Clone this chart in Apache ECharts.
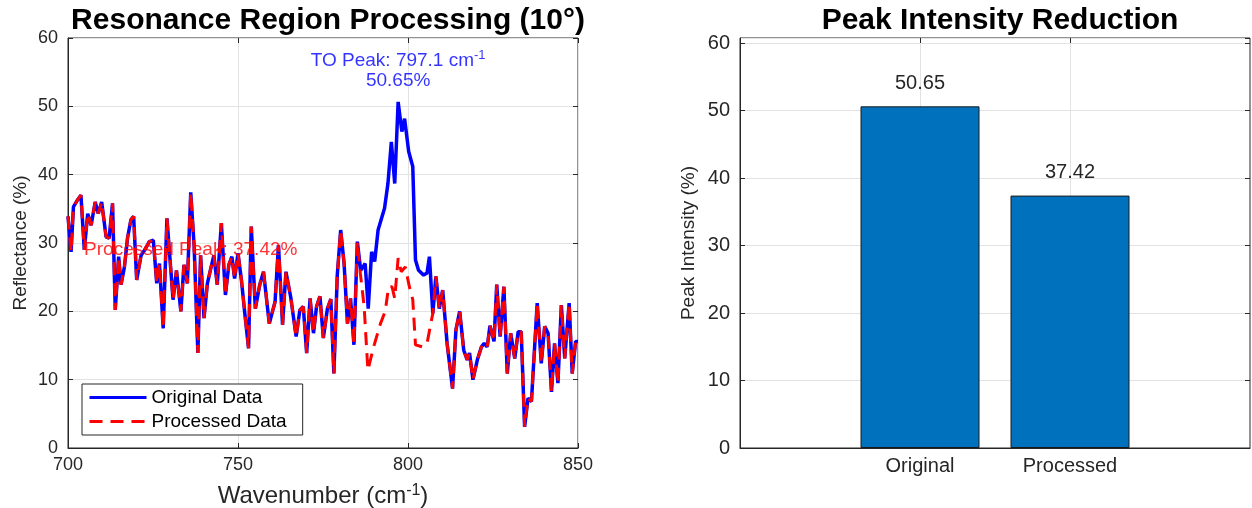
<!DOCTYPE html>
<html>
<head>
<meta charset="utf-8">
<script src="https://cdn.jsdelivr.net/npm/echarts@6/dist/echarts.min.js"></script>
<style>
    html, body { margin: 0; background: #fff; }
    #chart { width: 1252px; height: 508px; }
</style>
</head>
<body>
<div id="chart"></div>
<script>
// spectrum
const wavenumber = [
    700.0, 700.9, 701.6, 702.8, 703.8, 704.8, 705.8, 706.8, 708.0, 708.9, 709.9, 711.2, 712.1, 713.1, 713.9,
    714.9, 715.6, 716.6, 717.5, 718.5, 719.3, 720.2, 721.5, 722.6, 723.9, 725.1, 726.1, 726.9, 728.0, 729.1,
    730.9, 731.9, 733.2, 734.1, 735.1, 736.1, 737.1, 738.2, 739.0, 740.0, 741.0, 742.0, 742.9, 743.9, 745.1,
    746.3, 747.3, 748.2, 749.0, 750.0, 751.0, 752.0, 753.1, 753.9, 755.1, 756.4, 757.5, 759.2, 760.9, 761.9,
    763.1, 764.1, 765.5, 767.1, 768.2, 769.2, 770.2, 771.2, 772.2, 773.1, 774.1, 775.1, 776.3, 777.3, 778.2,
    779.2, 780.2, 781.2, 782.2, 783.1, 784.1, 785.1, 786.1, 787.4, 788.3, 789.3, 790.2, 791.2, 792.2, 793.1,
    794.1, 795.1, 796.1, 797.1, 798.2, 799.0, 800.2, 801.4, 802.2, 803.1, 804.6, 805.6, 806.3, 807.3, 808.2,
    809.2, 810.2, 811.5, 813.1, 814.1, 815.2, 816.4, 817.4, 818.1, 819.1, 820.4, 821.6, 822.4, 823.3, 824.1,
    825.3, 826.1, 827.1, 828.2, 829.2, 830.2, 831.4, 832.4, 833.3, 834.3, 835.3, 836.3, 838.0, 839.2, 840.2,
    841.2, 842.2, 843.1, 844.1, 845.1, 846.1, 847.4, 848.3, 849.3, 850.0
];
const originalRefl = [
    33.9, 28.7, 35.3, 36.3, 37.0, 29.0, 34.3, 32.6, 36.0, 34.3, 36.0, 30.9, 30.7, 35.8, 20.2,
    28.0, 23.9, 26.5, 30.7, 33.4, 33.9, 24.6, 28.2, 29.0, 30.2, 30.4, 24.1, 27.0, 17.5, 33.6,
    21.7, 26.0, 20.0, 26.8, 24.1, 37.42, 29.5, 13.9, 28.2, 19.0, 24.1, 26.3, 28.2, 23.9, 32.9,
    22.4, 26.8, 28.0, 24.8, 28.5, 24.6, 19.7, 14.6, 32.4, 20.4, 23.9, 25.8, 18.2, 21.4, 29.7,
    18.0, 25.8, 22.1, 16.3, 20.2, 20.7, 13.9, 21.9, 16.8, 20.7, 22.2, 16.1, 20.4, 21.8, 10.9,
    25.3, 31.9, 27.0, 18.2, 21.9, 15.1, 30.2, 26.0, 27.0, 20.4, 28.7, 27.3, 31.9, 33.6, 35.1,
    38.7, 44.8, 38.7, 50.65, 46.3, 48.2, 43.4, 41.2, 27.5, 26.0, 25.3, 25.6, 28.0, 19.7, 25.1,
    20.4, 23.1, 15.3, 8.7, 17.3, 20.0, 14.3, 12.9, 13.9, 10.0, 12.9, 14.8, 15.3, 14.8, 17.9,
    15.6, 23.9, 16.3, 23.6, 10.9, 16.8, 13.1, 17.0, 17.0, 3.1, 7.3, 6.8, 21.2, 12.4, 17.8,
    16.8, 8.2, 15.3, 9.5, 20.9, 13.1, 21.2, 10.9, 15.6, 15.6
];
// processed curve differs from the original only inside the resonance window
const windowStart = 785.5;
const windowEnd = 807.0;
const processedWindowWn = [786.0, 787.1, 788.2, 789.9, 791.9, 793.3, 794.3, 795.3, 796.1, 797.1, 798.0, 799.2, 800.4, 801.4, 802.2, 804.2, 805.6, 806.9];
const processedWindowRefl = [25.5, 20.7, 11.4, 14.8, 18.2, 20.0, 23.6, 23.6, 21.9, 27.8, 25.8, 26.5, 23.6, 21.7, 15.1, 14.8, 15.3, 18.7];

const toPeakWn = 797.1;
const barCategories = ['Original', 'Processed'];
const peakValues = [50.65, 37.42];
const reflTicks = [0, 60, 10];
const wnTicks = [700, 850, 50];

const font = '"Liberation Sans", Arial, Helvetica, sans-serif';
const ink = '#262626';
const gridColor = '#e3e3e3';

const originalData = wavenumber.map((w, i) => [w, originalRefl[i]]);
const processedData = originalData
    .filter(p => p[0] < windowStart || p[0] > windowEnd)
    .concat(processedWindowWn.map((w, i) => [w, processedWindowRefl[i]]))
    .sort((a, b) => a[0] - b[0]);
const procPeak = processedData.reduce((m, p) => p[1] > m[1] ? p : m);
const barMax = Math.max(...peakValues) * 1.2;

const tickStyle = { show: true, inside: true, length: 5, lineStyle: { color: ink } };
const lineStyle = { show: true, onZero: false, lineStyle: { color: ink } };
const labelStyle = { color: ink, fontSize: 19, fontFamily: font };
const nameStyle = (size) => ({ color: ink, fontSize: size, fontFamily: font,
    rich: { sup: { fontSize: Math.round(size * 0.65), fontFamily: font, color: ink, padding: [0, 0, 11, 0] } } });
const hiddenMirror = { axisLine: { show: false, onZero: false }, axisTick: tickStyle, axisLabel: { show: false }, splitLine: { show: false } };

const chart = echarts.init(document.getElementById('chart'), null, { renderer: 'canvas' });

chart.setOption({
    backgroundColor: '#fff',
    animation: false,
    title: [
        { text: 'Resonance Region Processing (10°)', left: 323, top: 1, textAlign: 'center',
          textStyle: { fontSize: 30, fontWeight: 'bold', color: '#000', fontFamily: font } },
        { text: 'Peak Intensity Reduction', left: 995, top: 1, textAlign: 'center',
          textStyle: { fontSize: 30, fontWeight: 'bold', color: '#000', fontFamily: font } },
    ],
    grid: [
        { left: 68, top: 38, width: 510, height: 410, outerBoundsMode: 'none', show: true, borderColor: ink, borderWidth: 1 },
        { left: 740, top: 38, width: 510, height: 410, outerBoundsMode: 'none', show: true, borderColor: ink, borderWidth: 1 },
    ],
    legend: {
        data: ['Original Data', 'Processed Data'],
        orient: 'vertical',
        left: 82, top: 384,
        itemWidth: 57, itemHeight: 14, itemGap: 5,
        padding: [4, 16, 4, 6],
        backgroundColor: '#fff',
        borderColor: ink, borderWidth: 1,
        itemStyle: { opacity: 0 },
        lineStyle: { width: 3 },
        textStyle: { fontSize: 19, color: '#000', fontFamily: font },
    },
    xAxis: [
        { type: 'value', gridIndex: 0, min: wnTicks[0], max: wnTicks[1], interval: wnTicks[2],
          name: 'Wavenumber (cm{sup|-1})', nameLocation: 'middle', nameGap: 35, nameTextStyle: nameStyle(24),
          axisLine: lineStyle, axisTick: tickStyle,
          axisLabel: { ...labelStyle, fontSize: 18, margin: 8 },
          splitLine: { show: true, lineStyle: { color: gridColor } } },
        { type: 'value', gridIndex: 0, position: 'top', min: wnTicks[0], max: wnTicks[1], interval: wnTicks[2], ...hiddenMirror },
        { type: 'value', gridIndex: 1, min: -0.2, max: 3.2,
          axisLine: lineStyle,
          axisTick: { ...tickStyle, customValues: [1, 2] },
          axisLabel: { ...labelStyle, fontSize: 20, margin: 8, customValues: [1, 2], formatter: v => barCategories[Math.round(v) - 1] || '' },
          splitLine: { show: true, lineStyle: { color: gridColor } } },
        { type: 'value', gridIndex: 1, position: 'top', min: -0.2, max: 3.2, ...hiddenMirror,
          axisTick: { ...tickStyle, customValues: [1, 2] } },
    ],
    yAxis: [
        { type: 'value', gridIndex: 0, min: reflTicks[0], max: reflTicks[1], interval: reflTicks[2],
          name: 'Reflectance (%)', nameLocation: 'middle', nameGap: 38, nameTextStyle: nameStyle(19),
          axisLine: lineStyle, axisTick: tickStyle,
          axisLabel: { ...labelStyle, fontSize: 18, margin: 10 },
          splitLine: { show: true, lineStyle: { color: gridColor } } },
        { type: 'value', gridIndex: 0, position: 'right', min: reflTicks[0], max: reflTicks[1], interval: reflTicks[2], ...hiddenMirror },
        { type: 'value', gridIndex: 1, min: 0, max: barMax, interval: 10,
          name: 'Peak Intensity (%)', nameLocation: 'middle', nameGap: 42, nameTextStyle: nameStyle(19),
          axisLine: lineStyle, axisTick: tickStyle,
          axisLabel: { ...labelStyle, fontSize: 20, margin: 10, showMaxLabel: false },
          splitLine: { show: true, lineStyle: { color: gridColor } } },
        { type: 'value', gridIndex: 1, position: 'right', min: 0, max: barMax, interval: 10, ...hiddenMirror },
    ],
    series: [
        { name: 'Original Data', type: 'line', xAxisIndex: 0, yAxisIndex: 0, data: originalData,
          symbol: 'none', lineStyle: { color: '#0000ff', width: 3.5 }, itemStyle: { color: '#0000ff' }, z: 3 },
        { name: 'Processed Data', type: 'line', xAxisIndex: 0, yAxisIndex: 0, data: processedData,
          symbol: 'none', lineStyle: { color: '#ff0000', width: 3, type: [13, 8] }, itemStyle: { color: '#ff0000' }, z: 4 },
        { type: 'scatter', xAxisIndex: 0, yAxisIndex: 0, silent: true, symbolSize: 0, z: 6,
          data: [[toPeakWn, peakValues[0] + 5]],
          label: { show: true, position: 'inside', align: 'center', color: '#0000ff', fontSize: 19, fontFamily: font,
                   offset: [0, 3],
                   formatter: '{a|TO Peak: ' + toPeakWn.toFixed(1) + ' cm}{s|-1}\n{a|' + peakValues[0].toFixed(2) + '%}',
                   lineHeight: 20,
                   rich: { a: { color: '#0000ff', fontSize: 19, fontFamily: font, lineHeight: 20 },
                           s: { color: '#0000ff', fontSize: 13, fontFamily: font, padding: [0, 0, 10, 0] } } } },
        { type: 'scatter', xAxisIndex: 0, yAxisIndex: 0, silent: true, symbolSize: 0, z: 6,
          data: [[procPeak[0], procPeak[1] - 8]],
          label: { show: true, position: 'inside', align: 'center', color: '#ff0000', fontSize: 19, fontFamily: font,
                   offset: [0, 3],
                   formatter: 'Processed Peak: ' + procPeak[1].toFixed(2) + '%' } },
        { type: 'bar', xAxisIndex: 2, yAxisIndex: 2, barWidth: 119,
          data: peakValues.map((v, i) => [i + 1, v]),
          itemStyle: { color: '#0072bd', borderColor: '#1a1a1a', borderWidth: 1 },
          label: { show: true, position: 'top', distance: 13, color: ink, fontSize: 20, fontFamily: font,
                   formatter: p => p.value[1].toFixed(2) } },
    ],
});
</script>
</body>
</html>
